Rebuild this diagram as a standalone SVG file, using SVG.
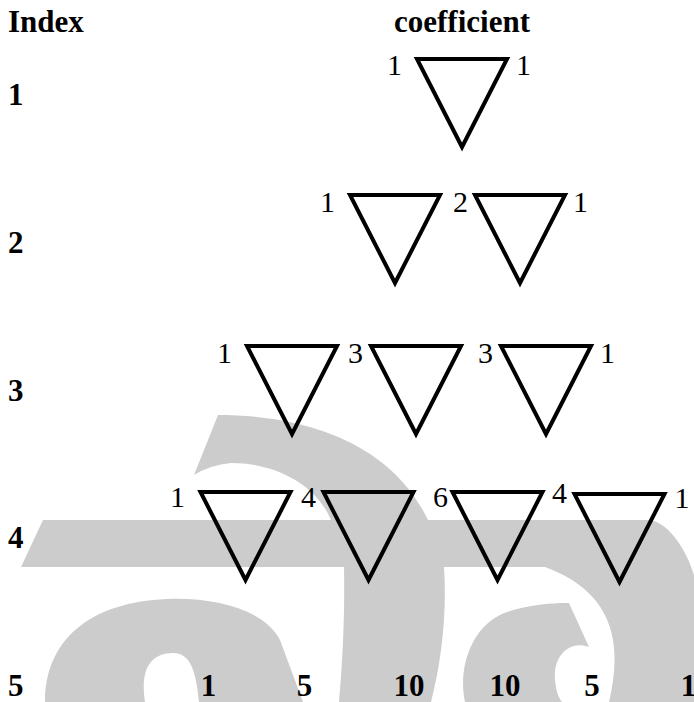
<svg xmlns="http://www.w3.org/2000/svg" width="694" height="702" viewBox="0 0 694 702">
<style>
.wm{fill:#cccccc;stroke:none}
.tri{fill:none;stroke:#000000;stroke-width:4;stroke-linejoin:miter;stroke-miterlimit:10}
.hd{font-family:"Liberation Serif","Times New Roman",serif;font-weight:bold;font-size:31px;fill:#000}
.bn{font-family:"Liberation Serif","Times New Roman",serif;font-weight:bold;font-size:31px;fill:#000;text-anchor:middle}
.cf{font-family:"Liberation Serif","Times New Roman",serif;font-size:30px;fill:#000;text-anchor:middle}
</style>
<rect x="0" y="0" width="694" height="702" fill="#ffffff"/>
<g id="watermark">
<path class="wm" d="M43,520 L331,520 C318,488 280,463 231,463 Q210,465 194,475 L218,415 C300,415 390,440 428,520 L648,520 C665,520 685,545 694,575 L694,702 L609,702 C620,655 622,595 545,567 L444,567 C447,610 442,660 431,702 L339,702 C342,670 345,620 344,567 L21,567 Z"/>
<path class="wm" fill-rule="evenodd" d="M45,702 C45,640 90,602 167,599 C215,597 265,610 280,640 L303,702 Z M145,702 C140,670 150,653 173,653 C190,653 196,670 199,702 Z"/>
<path class="wm" d="M465,702 C458,670 470,630 500,615 C520,606 545,603 569,603 L589,647 C570,640 553,655 555,680 C556,690 558,697 562,702 Z"/>
</g>
<g id="headers">
<text class="hd" x="8" y="32">Index</text>
<text class="hd" x="462" y="32" text-anchor="middle">coefficient</text>
</g>
<g id="index-labels">
<text class="hd" x="8" y="105">1</text>
<text class="hd" x="8" y="253">2</text>
<text class="hd" x="8" y="401">3</text>
<text class="hd" x="8" y="548">4</text>
<text class="hd" x="8" y="696">5</text>
</g>
<g id="row1">
<g id="t1-1"><polygon class="tri" points="417,59 507,59 462,147"/></g>
<text class="cf" x="394.5" y="75">1</text>
<text class="cf" x="523.5" y="75">1</text>
</g>
<g id="row2">
<g id="t2-1"><polygon class="tri" points="350,195 440,195 395,283"/></g>
<g id="t2-2"><polygon class="tri" points="475,195 565,195 520,283"/></g>
<text class="cf" x="327.5" y="212">1</text>
<text class="cf" x="460.5" y="212">2</text>
<text class="cf" x="580.5" y="212">1</text>
</g>
<g id="row3">
<g id="t3-1"><polygon class="tri" points="247,346 337,346 292,434"/></g>
<g id="t3-2"><polygon class="tri" points="371,346 461,346 416,434"/></g>
<g id="t3-3"><polygon class="tri" points="501,346 591,346 546,434"/></g>
<text class="cf" x="224.5" y="363">1</text>
<text class="cf" x="355.5" y="363">3</text>
<text class="cf" x="485.5" y="363">3</text>
<text class="cf" x="607.5" y="363">1</text>
</g>
<g id="row4">
<g id="t4-1"><polygon class="tri" points="200.5,492 290.5,492 245.5,580"/></g>
<g id="t4-2"><polygon class="tri" points="323.5,492 413.5,492 368.5,580"/></g>
<g id="t4-3"><polygon class="tri" points="452.5,492 542.5,492 497.5,580"/></g>
<g id="t4-4"><polygon class="tri" points="574.5,494 664.5,494 619.5,582"/></g>
<text class="cf" x="177.5" y="507">1</text>
<text class="cf" x="308.5" y="507">4</text>
<text class="cf" x="440.5" y="507">6</text>
<text class="cf" x="559.5" y="503">4</text>
<text class="cf" x="682" y="508">1</text>
</g>
<g id="row5">
<text class="bn" x="208.5" y="696">1</text>
<text class="bn" x="304.5" y="696">5</text>
<text class="bn" x="409" y="696">10</text>
<text class="bn" x="505" y="696">10</text>
<text class="bn" x="592" y="696">5</text>
<text class="bn" x="688.5" y="696">1</text>
</g>
</svg>
